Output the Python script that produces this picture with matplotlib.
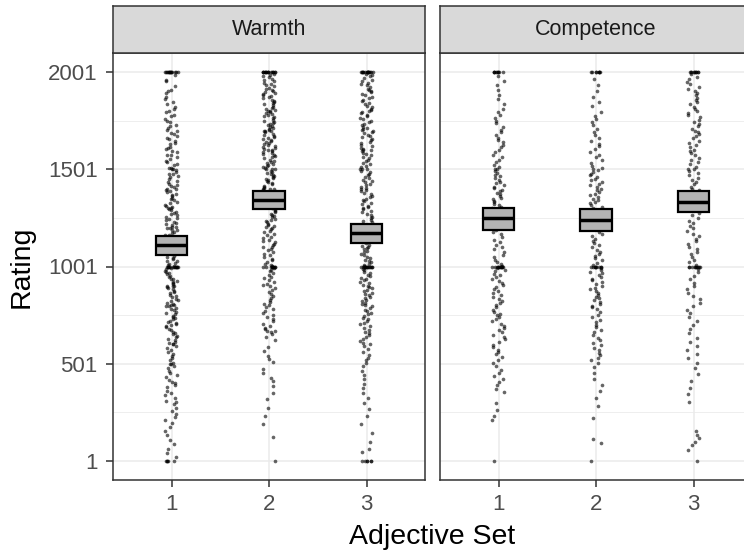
import matplotlib
matplotlib.use('Agg')
import matplotlib.pyplot as plt
from matplotlib.patches import Rectangle
import numpy as np

plt.rcParams['font.family'] = ['Liberation Sans', 'DejaVu Sans']

# Ratings per adjective set (1..2001 slider scale)
warmth_1 = [2001] * 14 + [
    1986, 1962, 1955, 1929, 1911, 1903,
    1894, 1875, 1864, 1847, 1839, 1821, 1815, 1802,
    1797, 1783, 1776, 1762, 1751, 1746, 1731, 1725, 1714, 1703,
    1699, 1688, 1682, 1675, 1663, 1657, 1646, 1638, 1633, 1619, 1611, 1606,
    1597, 1589, 1577, 1574, 1565, 1553, 1546, 1538, 1529, 1522, 1511, 1506, 1501, 1501,
    1496, 1488, 1480, 1476, 1465, 1460, 1451, 1442, 1437, 1427, 1421, 1414, 1409, 1402, 1400,
    1397, 1390, 1385, 1377, 1369, 1363, 1354, 1350, 1342, 1332, 1328, 1318, 1313, 1307, 1302, 1300,
    1295, 1291, 1282, 1278, 1269, 1265, 1257, 1252, 1244, 1239, 1230, 1227, 1218, 1214, 1207, 1203, 1201,
    1199, 1191, 1187, 1178, 1174, 1165, 1161, 1153, 1148, 1140, 1135, 1127, 1122, 1114, 1110, 1103, 1100,
    1096, 1091, 1083, 1078, 1070, 1065, 1057, 1052, 1044, 1039, 1031, 1027, 1018, 1014, 1007, 1004,
] + [1001] * 12 + [
    997, 992, 987, 978, 974, 965, 961, 952, 948, 939, 935, 926, 922, 914, 909, 902, 900, 900,
    896, 889, 883, 875, 870, 862, 856, 849, 843, 836, 829, 823, 815, 810, 804, 801, 800,
    795, 788, 781, 776, 768, 761, 755, 748, 742, 734, 729, 721, 714, 708, 703, 700,
    694, 688, 679, 672, 665, 657, 651, 643, 637, 628, 621, 613, 608, 601, 600,
    592, 581, 569, 561, 548, 539, 527, 518, 506, 501, 501,
    489, 476, 463, 451, 442, 430, 417, 405, 401,
    393, 378, 362, 351, 337, 322, 309, 301,
    291, 274, 259, 243, 226, 211,
    193, 172, 154, 131, 108,
    86, 61, 38, 17,
] + [1] * 5

warmth_2 = [2001] * 16 + [
    1994, 1988, 1981, 1975, 1968, 1962, 1955, 1949, 1942, 1936, 1929, 1923, 1916, 1911, 1905, 1901,
    1897, 1891, 1885, 1880, 1873, 1868, 1861, 1856, 1849, 1844, 1837, 1832, 1825, 1820, 1813, 1808, 1803, 1800,
    1796, 1791, 1786, 1780, 1775, 1769, 1764, 1758, 1753, 1747, 1742, 1736, 1731, 1725, 1720, 1714, 1709, 1705, 1701, 1700,
    1697, 1692, 1686, 1681, 1675, 1670, 1664, 1659, 1653, 1648, 1642, 1637, 1631, 1626, 1620, 1615, 1609, 1604, 1601, 1600,
    1596, 1591, 1585, 1580, 1574, 1569, 1563, 1558, 1552, 1547, 1541, 1536, 1530, 1525, 1519, 1514, 1508, 1501, 1501, 1501,
    1495, 1490, 1484, 1479, 1473, 1468, 1462, 1457, 1451, 1446, 1440, 1435, 1429, 1424, 1418, 1413, 1407, 1402, 1400, 1400,
    1394, 1388, 1382, 1377, 1371, 1365, 1360, 1354, 1348, 1343, 1337, 1331, 1326, 1320, 1314, 1309, 1303, 1301, 1300,
    1293, 1286, 1280, 1273, 1267, 1260, 1254, 1247, 1241, 1234, 1228, 1221, 1215, 1208, 1203, 1201,
    1192, 1185, 1177, 1170, 1162, 1155, 1147, 1140, 1132, 1125, 1117, 1110, 1103, 1100,
    1092, 1084, 1075, 1067, 1058, 1050, 1041, 1033, 1024, 1016, 1008, 1003,
] + [1001] * 10 + [
    993, 985, 976, 967, 958, 949, 940, 931, 921, 912, 906, 900,
    891, 880, 869, 860, 848, 839, 827, 816, 808, 801,
    793, 781, 772, 760, 751, 742, 731, 719, 707,
    696, 684, 677, 669, 668, 661, 652, 640, 621,
    588, 566, 541, 523, 507,
    472, 451, 428, 409,
    386, 347, 318,
    274, 231, 187,
    125, 1,
]

warmth_3 = [2001] * 16 + [
    1995, 1987, 1980, 1972, 1964, 1957, 1949, 1941, 1934, 1926, 1918, 1911, 1903,
    1898, 1890, 1883, 1875, 1867, 1860, 1852, 1844, 1837, 1829, 1821, 1814, 1806, 1801,
    1797, 1790, 1782, 1775, 1767, 1760, 1752, 1745, 1737, 1730, 1722, 1715, 1707, 1702, 1700,
    1696, 1689, 1681, 1674, 1666, 1659, 1651, 1644, 1636, 1629, 1621, 1614, 1606, 1601, 1600,
    1595, 1588, 1580, 1573, 1565, 1558, 1550, 1543, 1535, 1528, 1520, 1513, 1505, 1501, 1501,
    1494, 1487, 1479, 1472, 1464, 1457, 1449, 1442, 1434, 1427, 1419, 1412, 1404, 1401,
    1396, 1389, 1381, 1374, 1366, 1359, 1351, 1344, 1336, 1329, 1321, 1314, 1306, 1301,
    1295, 1288, 1280, 1273, 1265, 1258, 1250, 1243, 1235, 1228, 1220, 1213, 1205, 1201,
    1196, 1189, 1181, 1174, 1166, 1159, 1151, 1144, 1136, 1129, 1121, 1114, 1106, 1101,
    1097, 1090, 1082, 1075, 1067, 1060, 1052, 1045, 1037, 1030, 1022, 1015, 1007, 1003,
] + [1001] * 14 + [
    996, 989, 981, 974, 966, 959, 951, 944, 936, 929, 921, 914, 906, 901,
    897, 890, 882, 875, 867, 860, 852, 845, 837, 830, 822, 815, 807, 802,
    796, 788, 779, 771, 762, 754, 745, 737, 728, 720, 711, 703,
    695, 685, 676, 666, 657, 647, 638, 628, 619, 609, 601,
    592, 578, 561, 547, 532, 518, 503,
    486, 463, 441, 420, 397, 376,
    351, 322, 296, 268,
    231, 188, 142, 97, 62, 47,
] + [1] * 6

competence_1 = [2001] * 9 + [
    1981, 1956, 1938, 1912, 1887, 1862, 1840, 1815,
    1796, 1782, 1766, 1749, 1738, 1721, 1705, 1693, 1679, 1664, 1651, 1640, 1627, 1615,
    1603, 1590, 1578, 1566, 1551, 1538, 1524, 1513, 1501, 1501,
    1492, 1484, 1473, 1466, 1455, 1447, 1438, 1430, 1421, 1413, 1404, 1397, 1389, 1381, 1372, 1365,
    1356, 1349, 1340, 1332, 1324, 1317, 1308, 1301, 1293, 1285, 1276, 1268, 1259, 1251,
    1240, 1228, 1215, 1203, 1190, 1178, 1166, 1152, 1139, 1127, 1114, 1101, 1089, 1074, 1061,
    1049, 1036, 1024, 1012, 1005,
] + [1001] * 12 + [
    994, 985, 976, 964, 955, 948, 936, 927, 918, 905, 897, 886, 874, 866, 853, 845, 832, 821,
    812, 801, 790, 777, 768, 755, 751,
    742, 731, 718, 706, 695, 684, 672, 661, 649, 637, 625, 612, 598, 586, 573, 561, 549, 534, 519, 504,
    488, 466, 450, 437, 421, 406, 392, 371, 352,
    298, 262, 231, 209,
    1,
]

competence_2 = [2001] * 8 + [
    1968, 1934, 1903, 1872, 1851, 1826,
    1795, 1778, 1762, 1743, 1729, 1712, 1695, 1681, 1664, 1650, 1633, 1621, 1604, 1592,
    1578, 1563, 1549, 1534, 1520, 1509, 1501,
    1496, 1487, 1479, 1470, 1462, 1453, 1445, 1436, 1428, 1419, 1411, 1402, 1394, 1385, 1377, 1368,
    1360, 1351, 1343, 1334, 1326, 1317, 1309, 1300, 1292, 1283, 1275, 1266, 1258,
    1247, 1236, 1224, 1213, 1202, 1190, 1179, 1168, 1156, 1145, 1134, 1122, 1111, 1100, 1088,
    1077, 1066, 1054, 1043, 1032, 1020, 1009,
] + [1001] * 9 + [
    993, 984, 975, 966, 956, 947, 938, 929, 920, 911, 901, 892, 883, 874, 865, 855, 846, 837,
    828, 819, 809, 800, 791, 780, 765,
    752, 739, 726, 713, 700, 687, 674, 661, 648, 635, 622, 609, 596, 583, 570, 557, 544, 531, 518, 505,
    482, 451, 420, 388, 357, 326, 281, 219,
    112, 91, 1,
]

competence_3 = [2001] * 10 + [
    1991, 1978, 1966, 1953, 1941, 1928, 1916, 1903,
    1894, 1883, 1871, 1860, 1848, 1837, 1825, 1814, 1802,
    1793, 1781, 1770, 1758, 1747, 1735, 1724, 1712, 1701,
    1695, 1684, 1672, 1661, 1649, 1638, 1626, 1615, 1603,
    1596, 1585, 1573, 1562, 1550, 1539, 1527, 1516, 1504, 1501,
    1493, 1482, 1470, 1459, 1447, 1436, 1424, 1413, 1401,
    1394, 1383, 1371, 1360, 1348, 1337, 1325, 1314, 1302,
    1292, 1279, 1265, 1252, 1238, 1225, 1211, 1198, 1184, 1171, 1157, 1144, 1130, 1117, 1103,
    1090, 1076, 1063, 1049, 1036, 1022, 1009,
] + [1001] * 10 + [
    988, 971, 953, 936, 918, 901, 883, 866, 848, 831, 813, 796, 778, 761,
    742, 721, 699, 678, 656, 635, 613, 592, 570, 549, 527, 506,
    480, 445, 410, 377, 342, 303,
    151, 132, 118, 99, 81, 57,
    1,
]

# Mean and interval for each adjective set
warmth_mean = [1110, 1345, 1172]
warmth_lo = [1059, 1299, 1121]
warmth_hi = [1160, 1388, 1222]
competence_mean = [1249, 1242, 1334]
competence_lo = [1190, 1185, 1280]
competence_hi = [1302, 1297, 1391]

facets = ['Warmth', 'Competence']
sets = [1, 2, 3]
y_ticks = [1, 501, 1001, 1501, 2001]

panel_data = {
    'Warmth': ([warmth_1, warmth_2, warmth_3], warmth_mean, warmth_lo, warmth_hi),
    'Competence': ([competence_1, competence_2, competence_3], competence_mean, competence_lo, competence_hi),
}

W, H = 744, 554
fig = plt.figure(figsize=(W / 100, H / 100), dpi=100)


def px_axes(x0, y0, x1, y1):
    return fig.add_axes([x0 / W, 1 - y1 / H, (x1 - x0) / W, (y1 - y0) / H])


def jitter(n, seed, width=0.065):
    # hash-style scatter of horizontal offsets, same on every run
    i = np.arange(n) + seed * 1000
    u = np.sin(i * 12.9898 + 78.233) * 43758.5453
    return (u - np.floor(u) - 0.5) * 2 * width


border = '#333333'
grid = '#EBEBEB'
panels_px = [(113, 53, 425, 480), (440, 53, 752, 480)]

for p, (name, (x0, y0, x1, y1)) in enumerate(zip(facets, panels_px)):
    ratings, mean, lo, hi = panel_data[name]
    ax = px_axes(x0, y0, x1, y1)
    ax.set_xlim(0.4, 3.6)
    ax.set_ylim(-99, 2101)

    # grid lines
    for v in y_ticks:
        ax.axhline(v, color=grid, lw=1.1, zorder=0)
    for v in [251, 751, 1251, 1751]:
        ax.axhline(v, color=grid, lw=0.6, zorder=0)
    for v in sets:
        ax.axvline(v, color=grid, lw=1.1, zorder=0)

    # jittered raw ratings
    for s, vals in zip(sets, ratings):
        vals = np.asarray(vals, dtype=float)
        xj = s + jitter(len(vals), p * 3 + s)
        ax.scatter(xj, vals, s=7, c='black', alpha=0.6, linewidths=0, zorder=2)

    # crossbars: mean line inside interval box
    bw = 0.32
    for s, m, l, h in zip(sets, mean, lo, hi):
        ax.add_patch(Rectangle((s - bw / 2, l), bw, h - l, facecolor='#B3B3B3',
                               edgecolor='black', lw=1.6, zorder=3))
        ax.plot([s - bw / 2, s + bw / 2], [m, m], color='black', lw=2.5,
                solid_capstyle='butt', zorder=4)

    for sp in ax.spines.values():
        sp.set_color(border)
        sp.set_linewidth(1.1)

    ax.set_xticks(sets)
    ax.set_xticklabels([str(s) for s in sets])
    ax.set_yticks(y_ticks)
    ax.tick_params(axis='both', length=5, width=1.1, color=border,
                   labelsize=16, labelcolor='#4D4D4D', pad=5)
    if p == 0:
        ax.set_yticklabels([str(v) for v in y_ticks])
        ax.tick_params(axis='y', pad=6)
    else:
        ax.tick_params(axis='y', left=False, labelleft=False)

    # facet strip
    st = px_axes(x0, 6, x1, y0)
    st.set_facecolor('#D9D9D9')
    st.set_xticks([])
    st.set_yticks([])
    for sp in st.spines.values():
        sp.set_color(border)
        sp.set_linewidth(1.1)
    st.text(0.5, 0.5, name, transform=st.transAxes, ha='center', va='center',
            fontsize=15.5, color='#1A1A1A')

fig.text(432 / W, 1 - 537 / H, 'Adjective Set', ha='center', va='center', fontsize=20.5)
fig.text(22 / W, 1 - 267 / H, 'Rating', ha='center', va='center', rotation=90, fontsize=20.5)

fig.savefig('out.png', dpi=100)
